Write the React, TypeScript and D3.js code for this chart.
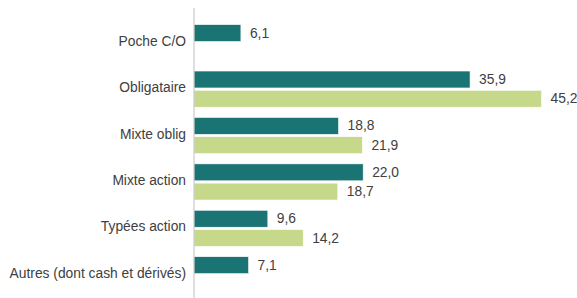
import React from "react";
import * as d3 from "d3";

const categories = [
  "Poche C/O",
  "Obligataire",
  "Mixte oblig",
  "Mixte action",
  "Typées action",
  "Autres (dont cash et dérivés)",
];
const seriesNames = ["s1", "s2"];
const series1: (number | null)[] = [6.1, 35.9, 18.8, 22.0, 9.6, 7.1];
const series2: (number | null)[] = [null, 45.2, 21.9, 18.7, 14.2, null];
const colors = ["#1b7474", "#c6d98b"];

const W = 577;
const H = 298;

export default function App() {
  const x0 = 194;
  const x = d3.scaleLinear().domain([0, 10]).range([x0, x0 + 76.9]);
  const y = d3
    .scaleBand<string>()
    .domain(categories)
    .range([19.5, 298])
    .paddingInner(0.22)
    .paddingOuter(0.11);
  const yi = d3
    .scaleBand<string>()
    .domain(seriesNames)
    .range([0, y.bandwidth()])
    .paddingInner(0.12);
  const data = [series1, series2];
  const fmt = (v: number) => v.toFixed(1).replace(".", ",");
  const font = "'Liberation Sans', Arial, sans-serif";
  const fs = 13.8;

  return (
    <svg
      width={W}
      height={H}
      style={{ position: "absolute", left: 0, top: 0 }}
      fontFamily={font}
    >
      <rect width={W} height={H} fill="#fff" />
      {categories.map((c, i) => (
        <g key={c}>
          <text
            x={186}
            y={(y(c) ?? 0) + y.bandwidth() / 2 - 1.5}
            textAnchor="end"
            dominantBaseline="central"
            fontSize={fs}
            fill="#404040"
          >
            {c}
          </text>
          {data.map((s, k) => {
            const v = s[i];
            if (v == null) return null;
            const yy = (y(c) ?? 0) + (yi(seriesNames[k]) ?? 0);
            return (
              <g key={k}>
                <rect
                  x={x(0)}
                  y={yy}
                  width={x(v) - x(0)}
                  height={yi.bandwidth()}
                  fill={colors[k]}
                  stroke="#ffffff"
                  strokeWidth={0.6}
                />
                <text
                  x={x(v) + 9}
                  y={yy + yi.bandwidth() / 2}
                  dominantBaseline="central"
                  fontSize={fs}
                  fill="#404040"
                >
                  {fmt(v)}
                </text>
              </g>
            );
          })}
        </g>
      ))}
      <line x1={x0} x2={x0} y1={8} y2={298} stroke="#bfbfbf" strokeWidth={1} />
    </svg>
  );
}
